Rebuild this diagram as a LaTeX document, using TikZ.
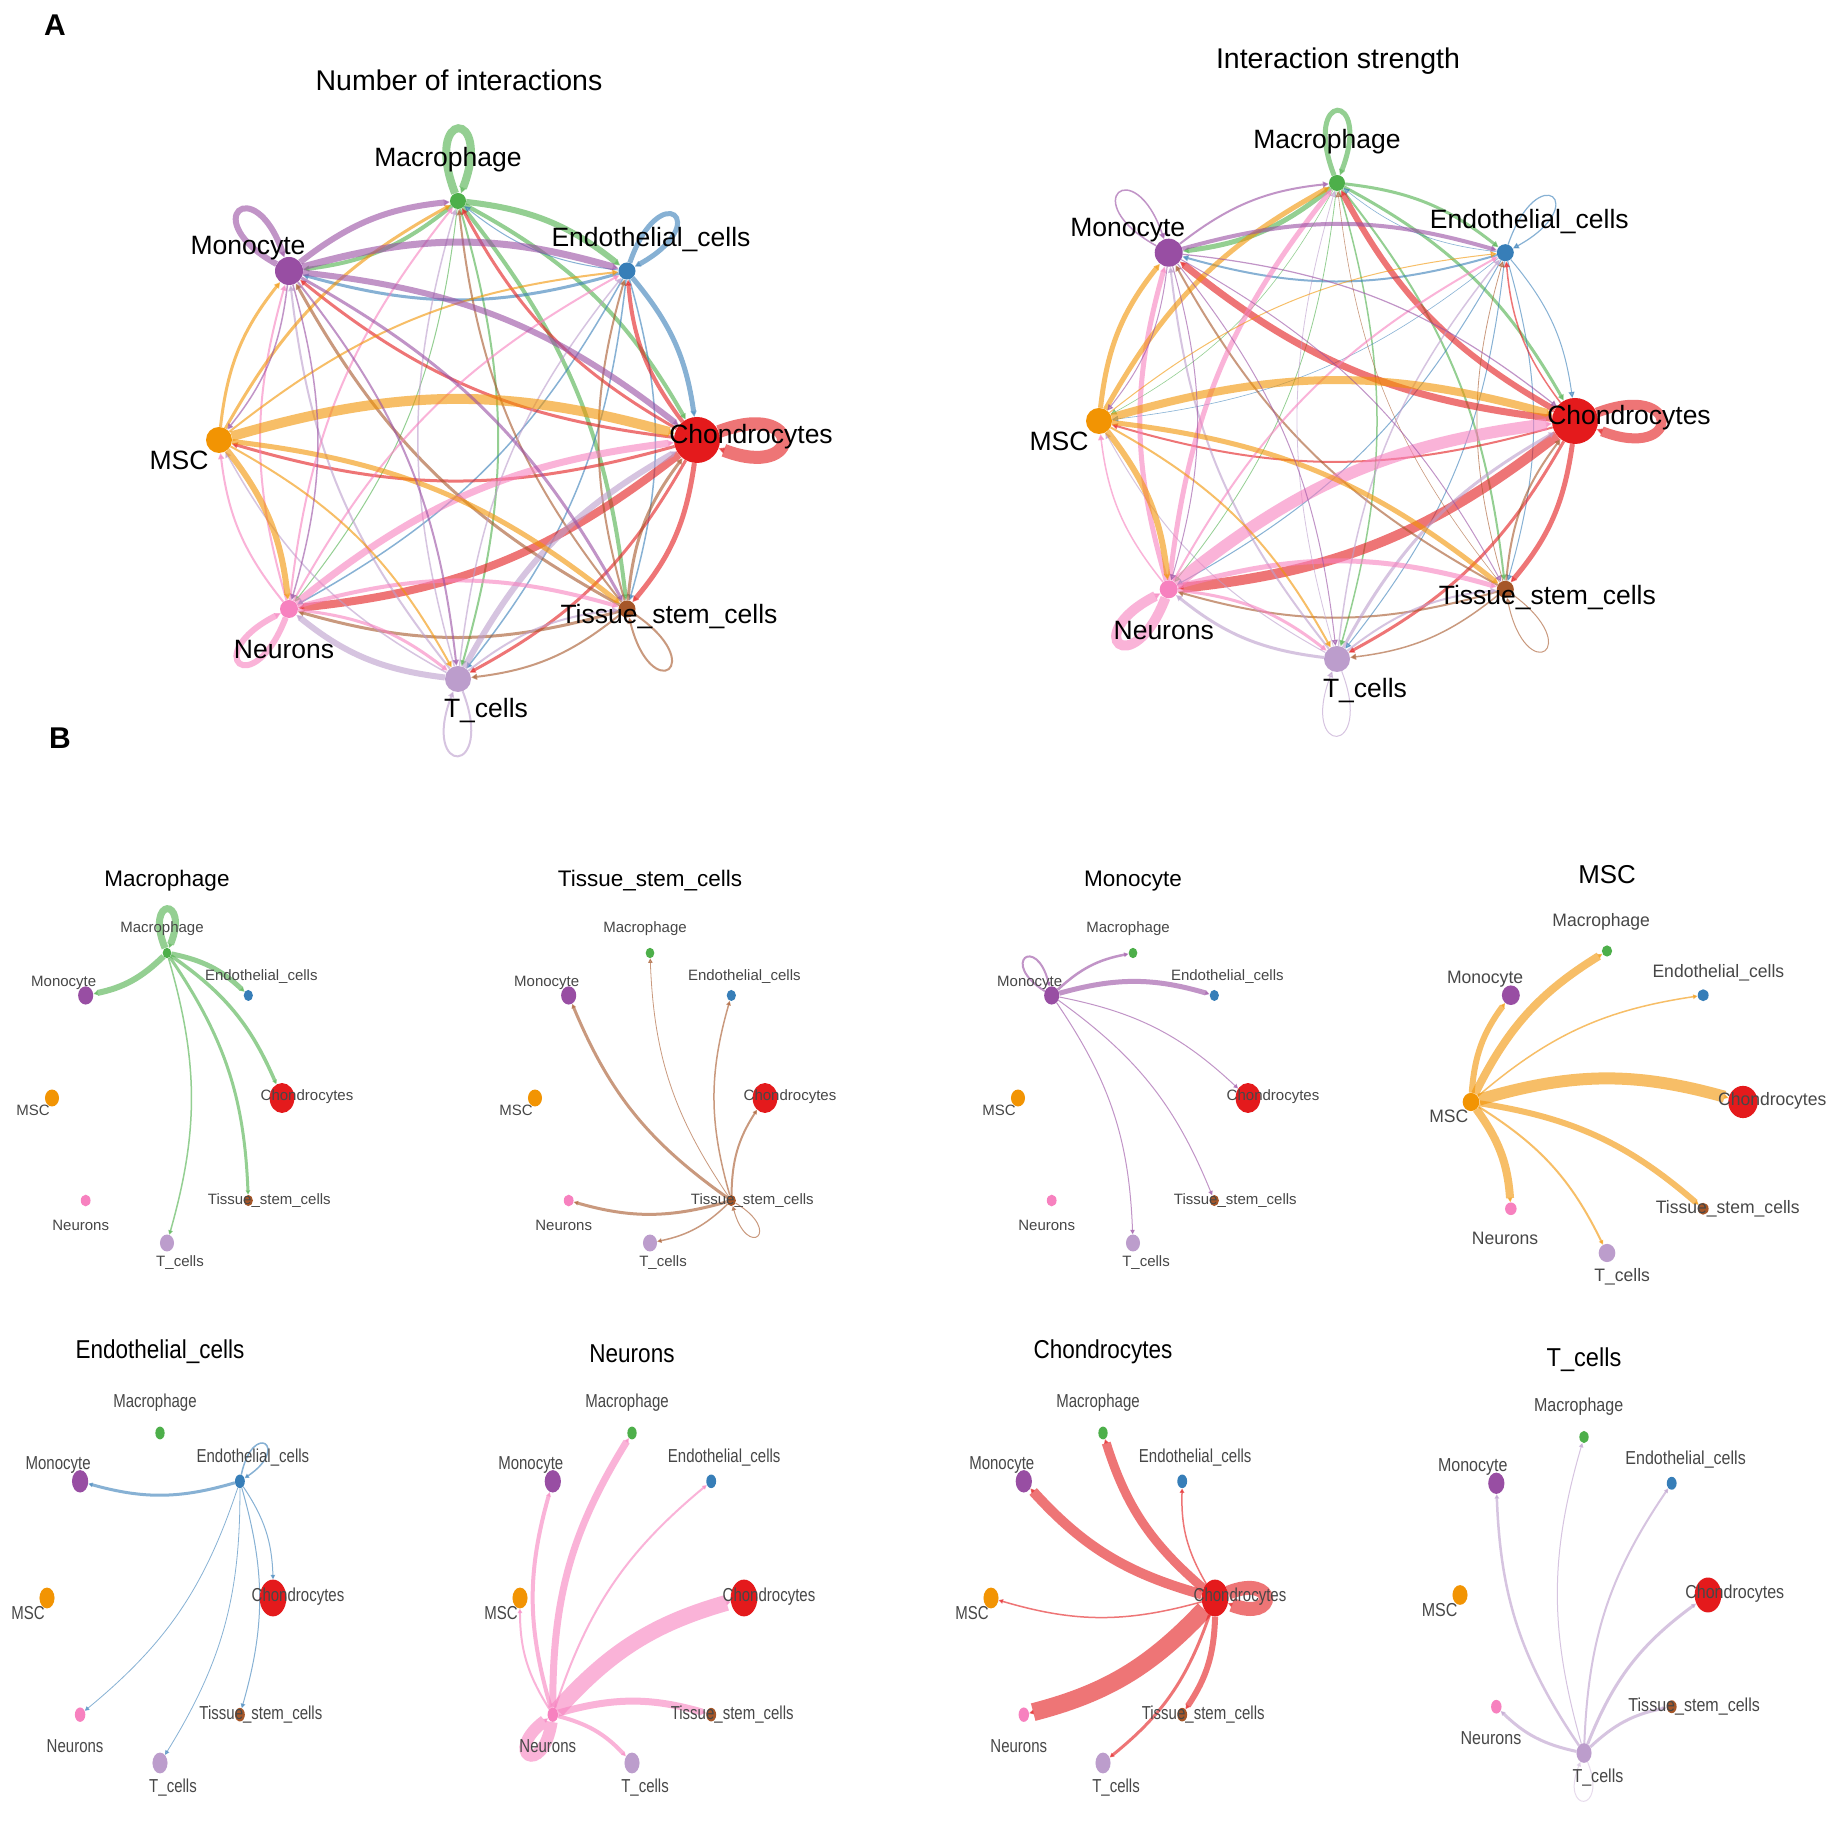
\documentclass[tikz,border=0pt]{standalone}
\usepackage{graphicx}
\usepackage{fontspec}
\setmainfont{Liberation Sans}
\usetikzlibrary{arrows.meta,shapes.geometric,backgrounds}

\definecolor{chon}{HTML}{E41A1C}
\definecolor{endo}{HTML}{377EB8}
\definecolor{mac}{HTML}{4DAF4A}
\definecolor{mono}{HTML}{984EA3}
\definecolor{msc}{HTML}{F29403}
\definecolor{neu}{HTML}{F781BF}
\definecolor{tc}{HTML}{BC9DCC}
\definecolor{tis}{HTML}{A65628}

\tikzset{
  cell/.style={ellipse, inner sep=0pt, draw=none},
  biglabel/.style={font=\fontsize{26.5}{28}\selectfont, inner sep=0pt},
  smalllabel/.style={font=\fontsize{15}{17}\selectfont, text=black!72, inner sep=0pt},
  paneltitle/.style={font=\fontsize{22.5}{25}\selectfont, inner sep=0pt},
  bigtitle/.style={font=\fontsize{28.5}{31}\selectfont, inner sep=0pt},
  letter/.style={font=\bfseries\fontsize{30}{32}\selectfont, inner sep=0pt},
  signal/.style={opacity=0.6, -{Triangle[length=6pt, width=6pt]}},
  bsignal/.style={opacity=0.6, -{Triangle[length=4.5pt, width=4.5pt]}}
}

\begin{document}
\begin{tikzpicture}[x=1pt, y=1pt]
  \useasboundingbox (0,0) rectangle (1842,1825);

  % Place the cell groups on their circles
  \foreach \p/\cx/\cy/\rx/\ry/\sx/\sy in {AL/458/1385/239/239/1/1, AR/1337/1404/238/238/1/1,
      Bmac/167/727/115/145/0.54/0.65, Btis/650/727/115/145/0.54/0.65, Bmono/1133/727/115/145/0.54/0.65, Bmsc/1607/723/136/151/0.64/0.7,
      Bendo/160/227/113/165/0.58/0.8, Bneu/632/227/112/165/0.58/0.8, Bchon/1103/227/112/165/0.58/0.8, Btc/1584/230/124/158/0.58/0.76} {
    \foreach \n/\a/\d in {chon/0/46, endo/45/17, mac/90/16, mono/135/28, msc/180/26, neu/225/18, tc/270/26, tis/315/17} {
      \node[cell, fill=\n, minimum width=\sx*\d*1pt, minimum height=\sy*\d*1pt] (\p-\n) at ({\cx+\rx*cos(\a)},{\cy+\ry*sin(\a)}) {};
    }
  }

  % Labels of the two large circles
  \foreach \p in {AL, AR} {
    \foreach \n/\lab/\ox/\oy in {mac/Macrophage/-10/41, endo/Endothelial\_cells/24/31, chon/Chondrocytes/54/3, tis/Tissue\_stem\_cells/42/-8,
        tc/T\_cells/28/-32, neu/Neurons/-5/-41, msc/MSC/-40/-20, mono/Monocyte/-41/23} {
      \node[biglabel] (\p-\n-lab) at ([shift={(\ox,\oy)}]\p-\n) {\lab};
    }
  }

  % Labels of the small circles
  \foreach \p/\fx/\fy in {Bmac/1/1, Btis/1/1, Bmono/1/1, Bmsc/1.17/1.2, Bendo/1/1.25, Bneu/1/1.25, Bchon/1/1.25, Btc/1.07/1.25} {
    \foreach \n/\lab/\ox/\oy in {mac/Macrophage/-5/24, endo/Endothelial\_cells/13/19, chon/Chondrocytes/25/1, tis/Tissue\_stem\_cells/21/0,
        tc/T\_cells/13/-20, neu/Neurons/-5/-25, msc/MSC/-19/-12, mono/Monocyte/-22/13} {
      \node[smalllabel] (\p-\n-lab) at ([shift={(\fx*\ox,\fy*\oy)}]\p-\n) {\scalebox{\fx}[\fy]{\lab}};
    }
  }

  % Titles and panel letters
  \node[letter] (letA) at (55,1800) {A};
  \node[letter] (letB) at (60,1087) {B};
  \node[bigtitle] (titL) at (459,1745) {Number of interactions};
  \node[bigtitle] (titR) at (1338,1764) {Interaction strength};
  \node[paneltitle] (Bmac-title) at (167,944) {Macrophage};
  \node[paneltitle] (Btis-title) at (650,944) {Tissue\_stem\_cells};
  \node[paneltitle] (Bmono-title) at (1133,944) {Monocyte};
  \node[paneltitle] (Bmsc-title) at (1607,950) {\scalebox{1.15}{MSC}};
  \node[paneltitle] (Bendo-title) at (160,473) {\scalebox{1}[1.15]{Endothelial\_cells}};
  \node[paneltitle] (Bneu-title) at (632,471) {\scalebox{1}[1.15]{Neurons}};
  \node[paneltitle] (Bchon-title) at (1103,473) {\scalebox{1}[1.15]{Chondrocytes}};
  \node[paneltitle] (Btc-title) at (1584,465) {\scalebox{1.05}[1.15]{T\_cells}};

  \begin{scope}[on background layer]
    \fill[white] (0,0) rectangle (1842,1825);

    % Number of interactions
    \foreach \s/\t/\w in {mac/mono/4, mac/endo/6, mac/chon/4, mac/tis/4, mac/tc/2, mac/neu/1,
        endo/mono/3, endo/chon/5, endo/tis/1.5, endo/tc/1.5, endo/neu/1.5, endo/mac/1,
        chon/mono/3, chon/mac/3, chon/endo/4, chon/msc/3, chon/neu/8, chon/tc/3, chon/tis/5,
        tis/mono/3, tis/mac/2, tis/neu/3, tis/tc/2, tis/chon/3, tis/endo/2,
        tc/neu/6, tc/chon/6, tc/mono/2, tc/mac/1.5, tc/tis/2, tc/endo/1.5, tc/msc/1.5,
        neu/chon/7, neu/tis/4, neu/tc/3, neu/mac/2, neu/endo/2, neu/mono/2, neu/msc/2,
        msc/chon/10, msc/tis/5, msc/neu/6, msc/mac/3, msc/mono/3, msc/endo/2, msc/tc/2,
        mono/mac/6, mono/endo/7, mono/chon/6, mono/tis/3, mono/tc/2, mono/neu/1.5, mono/msc/1.5}
      \draw[signal, draw=\s, line width=\w pt] (AL-\s) to[bend left=16] (AL-\t);
    \foreach \n/\a/\w [evaluate=\a as \ao using \a+21, evaluate=\a as \ai using \a-21] in
        {mac/90/8, mono/130/6, endo/50/5, chon/0/13, tis/305/2, tc/270/2, neu/228/6}
      \draw[signal, draw=\n, line width=\w pt] (AL-\n) to[out=\ao, in=\ai, min distance=92pt] (AL-\n);

    % Interaction strength
    \foreach \s/\t/\w in {mac/mono/5, mac/endo/3, mac/chon/3, mac/tis/2, mac/tc/1.5, mac/neu/0.8, mac/msc/0.6,
        endo/mono/2, endo/chon/1, endo/tis/1, endo/tc/1, endo/neu/1, endo/mac/0.6, endo/msc/0.6,
        chon/mono/7, chon/neu/10, chon/mac/6, chon/tis/5, chon/tc/3, chon/msc/2, chon/endo/1.5,
        tis/mono/2, tis/neu/2, tis/chon/2, tis/tc/1.5, tis/endo/0.8, tis/mac/0.6,
        tc/chon/3, tc/neu/3, tc/mono/2, tc/endo/1.5, tc/mac/0.8, tc/tis/2, tc/msc/1,
        neu/chon/12, neu/mac/5, neu/mono/5, neu/tis/5, neu/endo/2, neu/tc/3, neu/msc/1.5,
        msc/chon/8, msc/neu/6, msc/mac/5, msc/mono/5, msc/tis/5, msc/tc/2, msc/endo/1,
        mono/endo/4, mono/mac/2, mono/chon/1.2, mono/tis/1, mono/tc/1, mono/neu/1, mono/msc/1}
      \draw[signal, draw=\s, line width=\w pt] (AR-\s) to[bend left=16] (AR-\t);
    \foreach \n/\a/\w [evaluate=\a as \ao using \a+21, evaluate=\a as \ai using \a-21] in
        {mac/90/5, mono/130/1.5, endo/50/1.2, chon/0/10, tis/303/1, tc/270/1, neu/228/10}
      \draw[signal, draw=\n, line width=\w pt] (AR-\n) to[out=\ao, in=\ai, min distance=92pt] (AR-\n);

    % Outgoing signals of each group
    \foreach \t/\w in {mono/6, endo/5, chon/3.5, tis/3, tc/1.5}
      \draw[bsignal, draw=mac, line width=\w pt] (Bmac-mac) to[bend left=16] (Bmac-\t);
    \draw[bsignal, draw=mac, line width=7pt] (Bmac-mac) to[out=112, in=68, min distance=56pt] (Bmac-mac);

    \foreach \t/\w in {mono/3, mac/0.8, endo/1.5, chon/2, neu/3, tc/1.5}
      \draw[bsignal, draw=tis, line width=\w pt] (Btis-tis) to[bend left=16] (Btis-\t);
    \draw[bsignal, draw=tis, line width=1pt] (Btis-tis) to[out=329, in=285, min distance=56pt] (Btis-tis);

    \foreach \t/\w in {mac/2.5, endo/5, chon/1, tis/1, tc/1}
      \draw[bsignal, draw=mono, line width=\w pt] (Bmono-mono) to[bend left=16] (Bmono-\t);
    \draw[bsignal, draw=mono, line width=2pt] (Bmono-mono) to[out=148, in=104, min distance=54pt] (Bmono-mono);

    \foreach \t/\w in {mono/6, mac/8, endo/1.5, chon/12, tis/6, tc/2, neu/8}
      \draw[bsignal, draw=msc, line width=\w pt] (Bmsc-msc) to[bend left=16] (Bmsc-\t);

    \foreach \t/\w in {mono/3, chon/1, tis/1, tc/0.8, neu/0.8}
      \draw[bsignal, draw=endo, line width=\w pt] (Bendo-endo) to[bend left=16] (Bendo-\t);
    \draw[bsignal, draw=endo, line width=1.5pt] (Bendo-endo) to[out=78, in=34, min distance=56pt] (Bendo-endo);

    \foreach \t/\w in {mono/4, mac/7, endo/2, chon/16, tis/7, tc/4, msc/2}
      \draw[bsignal, draw=neu, line width=\w pt] (Bneu-neu) to[bend left=16] (Bneu-\t);
    \draw[bsignal, draw=neu, line width=12pt] (Bneu-neu) to[out=261, in=217, min distance=58pt] (Bneu-neu);

    \foreach \t/\w in {mono/10, mac/9, endo/1.5, msc/1.5, neu/18, tis/6, tc/3}
      \draw[bsignal, draw=chon, line width=\w pt] (Bchon-chon) to[bend left=16] (Bchon-\t);
    \draw[bsignal, draw=chon, line width=14pt] (Bchon-chon) to[out=22, in=-22, min distance=54pt] (Bchon-chon);

    \foreach \t/\w in {mono/2.5, mac/1, endo/2, chon/3, tis/3, neu/3}
      \draw[bsignal, draw=tc, line width=\w pt] (Btc-tc) to[bend left=16] (Btc-\t);
    \draw[bsignal, draw=tc!60, line width=1pt] (Btc-tc) to[out=292, in=248, min distance=56pt] (Btc-tc);
  \end{scope}
\end{tikzpicture}
\end{document}
